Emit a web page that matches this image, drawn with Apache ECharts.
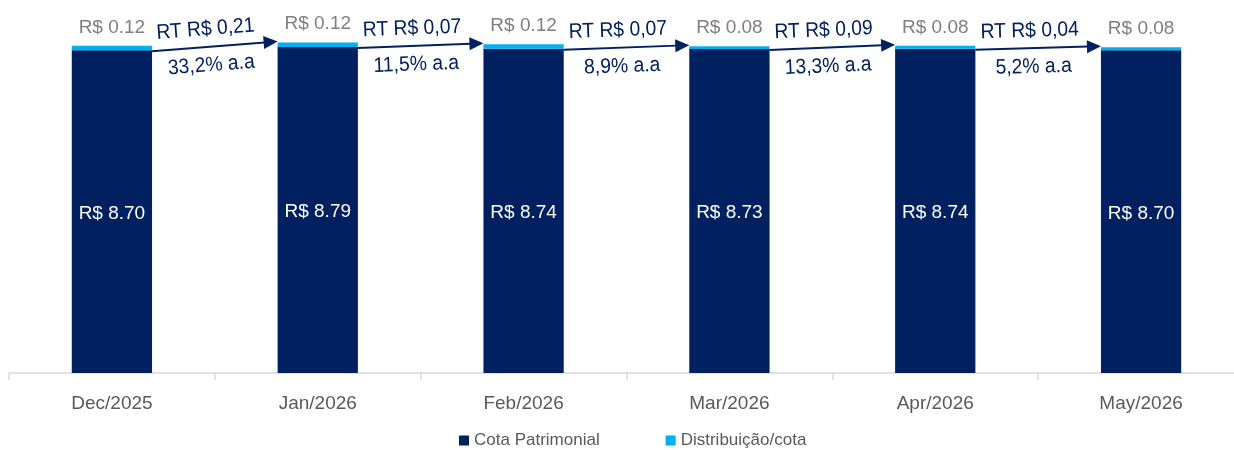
<!DOCTYPE html>
<html>
<head>
<meta charset="utf-8">
<script src="https://cdn.jsdelivr.net/npm/echarts@6/dist/echarts.min.js"></script>
<style>
  html, body { margin: 0; padding: 0; background: #fff; }
  #chart { width: 1234px; height: 450px; }
</style>
</head>
<body>
<div id="chart"></div>
<script>
// dados do gráfico
const categories = ['Dec/2025', 'Jan/2026', 'Feb/2026', 'Mar/2026', 'Apr/2026', 'May/2026']
const cotaPatrimonial = [8.70, 8.79, 8.74, 8.73, 8.74, 8.70]
const distribuicao = [0.12, 0.12, 0.12, 0.08, 0.08, 0.08]
const rtLabels = ['RT R$ 0,21', 'RT R$ 0,07', 'RT R$ 0,07', 'RT R$ 0,09', 'RT R$ 0,04']
const rtYield = ['33,2% a.a', '11,5% a.a', '8,9% a.a', '13,3% a.a', '5,2% a.a']

const NAVY = '#002060'
const CYAN = '#00b0f0'
const FONT = "'Liberation Sans', Arial, sans-serif"
const BAR_RATIO = 0.39

// setas entre as barras (de uma barra para a seguinte)
const arrowData = rtLabels.map((_, i) => [i, cotaPatrimonial[i], cotaPatrimonial[i + 1] + distribuicao[i + 1]])

function renderArrow(params, api) {
  const i = api.value(0)
  const band = api.size([1, 0])[0]
  const hw = band * BAR_RATIO / 2
  const p1 = api.coord([i, api.value(1)])
  const p2 = api.coord([i + 1, api.value(2)])
  const x1 = p1[0] + hw, y1 = p1[1] + 1
  const x2 = p2[0] - hw, y2 = p2[1] - 1
  const ang = Math.atan2(y2 - y1, x2 - x1)
  const cos = Math.cos(ang), sin = Math.sin(ang)
  const headLen = 14, headW = 6.5
  const bx = x2 - headLen * cos, by = y2 - headLen * sin
  const mx = (x1 + x2) / 2, my = (y1 + y2) / 2
  const textStyle = (txt) => ({
    text: txt, x: 0, y: 0, align: 'center', verticalAlign: 'middle',
    fill: NAVY, font: '21px ' + FONT
  })
  return {
    type: 'group',
    children: [
      {
        type: 'line',
        shape: { x1: x1, y1: y1, x2: bx + cos, y2: by + sin },
        style: { stroke: NAVY, lineWidth: 2 }
      },
      {
        type: 'polygon',
        shape: {
          points: [
            [x2, y2],
            [bx - headW * sin, by + headW * cos],
            [bx + headW * sin, by - headW * cos]
          ]
        },
        style: { fill: NAVY }
      },
      {
        type: 'text',
        x: mx - 8 + 17 * sin, y: my - 17 * cos,
        rotation: -ang,
        scaleX: 0.92,
        style: textStyle(rtLabels[i])
      },
      {
        type: 'text',
        x: mx - 5 - 19 * sin, y: my + 19 * cos,
        rotation: -ang,
        scaleX: 0.92,
        style: textStyle(rtYield[i])
      }
    ]
  }
}

const chart = echarts.init(document.getElementById('chart'))
chart.setOption({
  animation: false,
  textStyle: { fontFamily: FONT },
  grid: { left: 9, right: -10, top: 2, bottom: 77, outerBoundsMode: 'none', containLabel: false },
  legend: {
    left: 454,
    top: 427,
    icon: 'rect',
    itemWidth: 10,
    itemHeight: 10,
    itemGap: 66,
    textStyle: { fontSize: 17, color: '#595959', fontFamily: FONT },
    data: ['Cota Patrimonial', 'Distribuição/cota']
  },
  xAxis: {
    type: 'category',
    data: categories,
    axisLine: { lineStyle: { color: '#d9d9d9', width: 1.5 } },
    axisTick: { show: true, length: 7, lineStyle: { color: '#d9d9d9', width: 1.5 } },
    axisLabel: { fontSize: 19, color: '#595959', margin: 21 }
  },
  yAxis: {
    type: 'value',
    min: 0,
    max: 10,
    show: false
  },
  series: [
    {
      name: 'Cota Patrimonial',
      type: 'bar',
      stack: 'total',
      barWidth: (BAR_RATIO * 100) + '%',
      itemStyle: { color: NAVY },
      label: {
        show: true,
        position: 'inside',
        offset: [0, 2],
        color: '#fff',
        fontSize: 19,
        formatter: (p) => 'R$ ' + p.value.toFixed(2)
      },
      data: cotaPatrimonial
    },
    {
      name: 'Distribuição/cota',
      type: 'bar',
      stack: 'total',
      barWidth: (BAR_RATIO * 100) + '%',
      itemStyle: { color: CYAN },
      label: {
        show: true,
        position: 'top',
        distance: 9,
        color: '#7f7f7f',
        fontSize: 19,
        formatter: (p) => 'R$ ' + p.value.toFixed(2)
      },
      data: distribuicao
    },
    {
      type: 'custom',
      renderItem: renderArrow,
      clip: false,
      silent: true,
      z: 10,
      data: arrowData
    }
  ]
})
</script>
</body>
</html>
